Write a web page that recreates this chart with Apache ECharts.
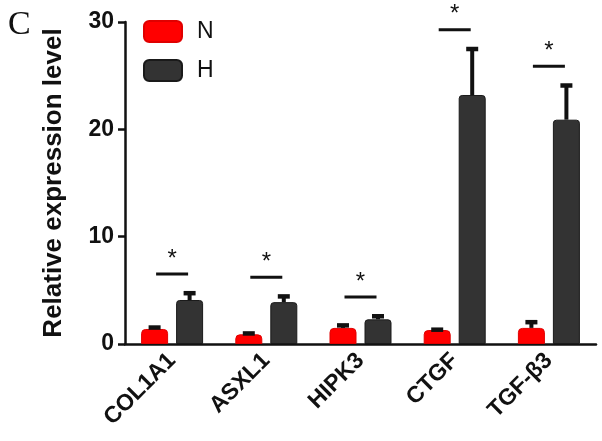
<!DOCTYPE html>
<html>
<head>
<meta charset="utf-8">
<script src="https://cdn.jsdelivr.net/npm/echarts@6/dist/echarts.min.js"></script>
<style>html,body{margin:0;padding:0;background:#fff;}#c{width:602px;height:441px;}</style>
</head>
<body>
<div id="c"></div>
<script>
var categories = ['COL1A1', 'ASXL1', 'HIPK3', 'CTGF', 'TGF-β3'];
var seriesNames = ['N', 'H'];
var valuesN = [1.4, 0.9, 1.5, 1.3, 1.5];
var errorsN = [0.25, 0.2, 0.35, 0.15, 0.65];
var valuesH = [4.1, 3.9, 2.3, 23.2, 20.9];
var errorsH = [0.75, 0.65, 0.4, 4.4, 3.3];
var significance = ['*', '*', '*', '*', '*'];
var yTicks = [0, 10, 20, 30];

var chart = echarts.init(document.getElementById('c'));
var BAR_W = 27;
var BAR_GAP = 8;

function errorSeries(name, vals, errs, sign) {
  return {
    type: 'custom',
    name: name + '_err',
    z: 5,
    silent: true,
    data: categories.map(function (c, i) { return [i, vals[i], errs[i]]; }),
    renderItem: function (params, api) {
      var i = api.value(0);
      var top = api.coord([i, api.value(1) + api.value(2)]);
      var base = api.coord([i, api.value(1)]);
      var x = base[0] + sign * (BAR_W + BAR_GAP) / 2;
      return {
        type: 'group',
        children: [
          { type: 'line', shape: { x1: x, y1: base[1], x2: x, y2: top[1] + 1 }, style: { stroke: '#111', lineWidth: 4 } },
          { type: 'rect', shape: { x: x - 6, y: top[1] - 1, width: 12, height: 4.5 }, style: { fill: '#111' } }
        ]
      };
    }
  };
}

var option = {
  animation: false,
  backgroundColor: '#fff',
  graphic: [{
    type: 'text', left: 8, top: 8,
    style: { text: 'C', font: '34px "Liberation Serif", serif', fill: '#111' }
  }],
  legend: {
    data: seriesNames,
    orient: 'vertical',
    left: 138, top: 15,
    itemWidth: 38, itemHeight: 21, itemGap: 16,
    icon: 'roundRect',
    textStyle: { fontFamily: 'Liberation Sans, Arial', fontSize: 23, color: '#111', padding: [0, 0, 0, 10] }
  },
  grid: { left: 125, right: 6, top: 22, bottom: 97, containLabel: false },
  xAxis: {
    type: 'category',
    data: categories,
    axisLine: { lineStyle: { color: '#111', width: 2.5 } },
    axisTick: { alignWithLabel: true, length: 7, lineStyle: { color: '#111', width: 2.5 } },
    axisLabel: { rotate: 45, margin: 13, fontFamily: 'Liberation Sans, Arial', fontWeight: 'bold', fontSize: 23, color: '#111' }
  },
  yAxis: {
    type: 'value',
    min: yTicks[0], max: yTicks[yTicks.length - 1], interval: 10,
    name: 'Relative expression level',
    nameLocation: 'middle',
    nameGap: 58,
    nameTextStyle: { fontFamily: 'Liberation Sans, Arial', fontWeight: 'bold', fontSize: 26, color: '#111' },
    splitLine: { show: false },
    axisLine: { show: true, lineStyle: { color: '#111', width: 2.5 } },
    axisTick: { show: true, length: 7, lineStyle: { color: '#111', width: 2.5 } },
    axisLabel: { margin: 11, fontFamily: 'Liberation Sans, Arial', fontWeight: 'bold', fontSize: 23, color: '#111' }
  },
  series: [
    {
      type: 'bar', name: seriesNames[0], data: valuesN,
      barWidth: BAR_W, barGap: (BAR_GAP / BAR_W * 100) + '%',
      itemStyle: { color: '#ff0000', borderColor: '#e00000', borderWidth: 1, borderRadius: [4, 4, 0, 0] }
    },
    {
      type: 'bar', name: seriesNames[1], data: valuesH,
      barWidth: BAR_W,
      itemStyle: { color: '#333333', borderColor: '#1a1a1a', borderWidth: 1, borderRadius: [3, 3, 0, 0] }
    },
    errorSeries('N', valuesN, errorsN, -1),
    errorSeries('H', valuesH, errorsH, 1),
    {
      type: 'custom',
      name: 'sig',
      silent: true,
      z: 6,
      data: categories.map(function (c, i) {
        return [i, Math.max(valuesN[i] + errorsN[i], valuesH[i] + errorsH[i])];
      }),
      renderItem: function (params, api) {
        var i = api.value(0);
        var p = api.coord([i, api.value(1)]);
        var y = p[1] - 18;
        return {
          type: 'group',
          children: [
            { type: 'line', shape: { x1: p[0] - 16, y1: y, x2: p[0] + 16, y2: y }, style: { stroke: '#111', lineWidth: 3 } },
            { type: 'text', x: p[0], y: y - 3, style: { text: significance[i], font: '24px "Liberation Sans", Arial', fill: '#111', textAlign: 'center', textVerticalAlign: 'bottom' } }
          ]
        };
      }
    }
  ]
};
chart.setOption(option);
</script>
</body>
</html>
